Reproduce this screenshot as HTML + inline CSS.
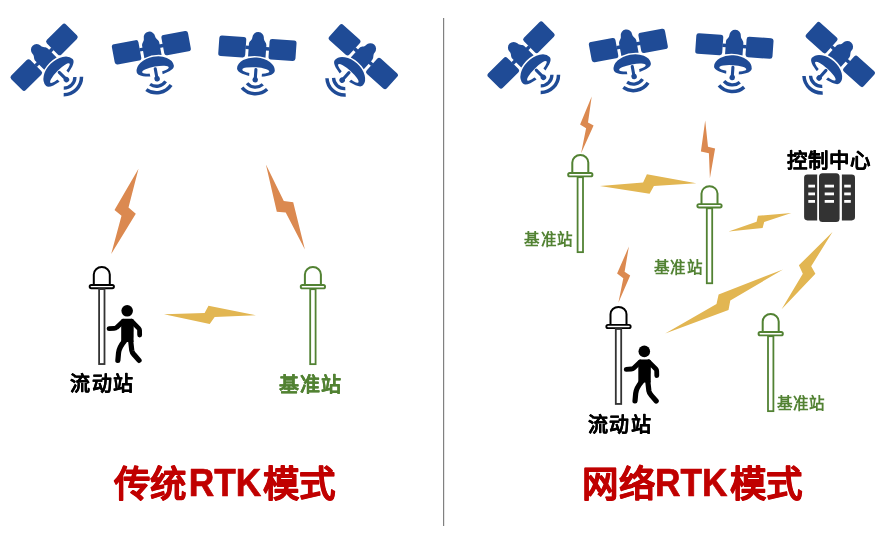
<!DOCTYPE html>
<html lang="zh-CN">
<head>
<meta charset="utf-8">
<style>
html,body{margin:0;padding:0;background:#fff;}
body{width:886px;height:535px;overflow:hidden;position:relative;font-family:"Liberation Sans",sans-serif;}
svg{position:absolute;left:0;top:0;will-change:transform;}
.t{font-family:"Liberation Sans",sans-serif;font-weight:bold;stroke-linejoin:round;}
</style>
</head>
<body>
<svg width="886" height="535" viewBox="0 0 886 535">
<defs>
  <g id="sat">
    <rect x="-38.7" y="-10.3" width="27" height="20.6" rx="2.6" fill="#1F4B96"/>
    <rect x="11.7" y="-10.3" width="27" height="20.6" rx="2.6" fill="#1F4B96"/>
    <rect x="-12" y="-1.75" width="24" height="3.5" fill="#1F4B96"/>
    <path d="M-8.75,9 L-8.75,-3.5 C-8.75,-6.5 -5.75,-7.5 -5.75,-10.5 A5.75,5.75 0 0 1 5.75,-10.5 C5.75,-7.5 8.75,-6.5 8.75,-3.5 L8.75,9 Q0,6.6 -8.75,9 Z" fill="#1F4B96"/>
    <path fill-rule="evenodd" d="M-18.9,21.5 A18.9,12.2 0 0 1 18.9,21.5 A18.9,7 0 0 1 -18.9,21.5 Z M-13.5,22.4 A13.5,3.2 0 0 0 13.5,22.4 A13.5,3.2 0 0 0 -13.5,22.4 Z" fill="#1F4B96"/>
    <rect x="-6.3" y="23.3" width="12.6" height="6.5" fill="#fff"/>
    <path d="M0,21.4 L0,31" stroke="#1F4B96" stroke-width="3.1" stroke-linecap="round"/>
    <circle cx="0" cy="31.6" r="2.75" fill="#1F4B96"/>
    <path d="M-7.9,35.7 A11.1,11.1 0 0 0 7.9,35.7" fill="none" stroke="#1F4B96" stroke-width="3.3"/>
    <path d="M-12.6,40.3 A17.7,17.7 0 0 0 12.6,40.3" fill="none" stroke="#1F4B96" stroke-width="3.5"/>
  </g>
  <g id="stn" fill="#fff">
    <path d="M-8,18.9 L-8,8.4 A8,7.4 0 0 1 8,8.4 L8,18.9" stroke-width="2"/>
    <rect x="-12.15" y="18.95" width="24.3" height="3.3" rx="1.65" stroke-width="1.9"/>
    <rect x="-2.7" y="23.1" width="5.4" height="74.95" stroke-width="1.8" stroke="currentColor"/>
  </g>
  <g id="man" fill="#000" stroke="#000" stroke-linecap="round" stroke-linejoin="round">
    <circle cx="0" cy="0" r="5.8" stroke="none"/>
    <path d="M-6,10 Q-6,8 -4,8 L4.6,8 Q6.6,8 6.6,10 L6.4,31.2 L-6,31.2 Z" stroke="none"/>
    <path d="M-4.2,10.6 L-10.5,16.6 Q-11.5,17.6 -13,17.6 L-18.1,17.9" fill="none" stroke-width="4.8"/>
    <path d="M4.5,10.5 L11.6,17.6 Q12.4,18.4 12.4,19.5 L12.5,24.2" fill="none" stroke-width="4.8"/>
    <path d="M-2.5,30 Q-8,36.5 -8.6,42 L-9.3,49.6" fill="none" stroke-width="5.2"/>
    <path d="M3.5,30 L4.6,39.5 Q5,42 7,44 L11.9,49.6" fill="none" stroke-width="5.2"/>
  </g>
</defs>

<!-- divider -->
<rect x="443" y="18" width="1.2" height="508" fill="#808080"/>

<!-- satellites left -->
<use href="#sat" transform="translate(44.1,57.25) rotate(-45)"/>
<use href="#sat" transform="translate(151.35,47.7) rotate(-10.5)"/>
<use href="#sat" transform="translate(257.4,48.2) rotate(4)"/>
<use href="#sat" transform="translate(363.3,56.7) rotate(42)"/>
<!-- satellites right -->
<use href="#sat" transform="translate(521.1,55.05) rotate(-45)"/>
<use href="#sat" transform="translate(628.35,45.5) rotate(-10.5)"/>
<use href="#sat" transform="translate(734.4,46) rotate(4)"/>
<use href="#sat" transform="translate(840.3,54.5) rotate(42)"/>

<!-- orange bolts -->
<g fill="#DB8950">
  <polygon points="138.5,168.7 128.5,207.6 135.8,213.8 111.2,253.9 121.5,215.8 114.5,209.9"/>
  <polygon points="265.9,164.5 283.8,201 293.2,202.2 304.9,249.4 285.7,212.6 276.8,211.7"/>
  <polygon points="591.7,96.5 588,122.6 593.6,125.4 581.1,153.3 586.1,128.2 580.1,124.5"/>
  <polygon points="705.2,120.6 708,146.7 715.1,148.6 709.9,178.2 708.9,153.2 700.9,151.4"/>
  <polygon points="628.9,246.5 624.6,271.8 630.2,275.5 618.4,302.7 623.3,278.3 617.1,273.6"/>
</g>
<!-- yellow bolts -->
<g fill="#E2B652">
  <polygon points="164,314.2 204.6,313 208.5,305.7 255.9,315.3 214.7,317 209.7,324.1"/>
  <polygon points="599.9,186.1 643.1,182.4 646.9,174.3 696.3,183.2 653.9,186.1 649.6,193.8"/>
  <polygon points="728.6,231.6 756.6,221.7 757.9,215.8 791.3,213.1 764.2,222.1 762.6,228"/>
  <polygon points="665.2,333.6 716.5,304.1 718.6,294.4 783,269.5 730.3,300.4 728.5,310.1"/>
  <polygon points="832.5,232.1 811.2,266.2 815.4,273.7 781.6,309.2 802.8,273.7 798.9,265.3"/>
</g>

<!-- stations -->
<use href="#stn" transform="translate(101.8,266)" stroke="#000" color="#333"/>
<use href="#stn" transform="translate(312.9,266.1)" stroke="#528233" color="#528233"/>
<use href="#stn" transform="translate(580.3,154.1)" stroke="#528233" color="#528233"/>
<use href="#stn" transform="translate(709.5,185.2)" stroke="#528233" color="#528233"/>
<use href="#stn" transform="translate(618.5,305.9)" stroke="#000" color="#333"/>
<use href="#stn" transform="translate(770.7,313.1)" stroke="#528233" color="#528233"/>

<!-- men -->
<use href="#man" transform="translate(127.16,310.8)"/>
<use href="#man" transform="translate(644.3,351.4)"/>

<!-- server -->
<g fill="#333">
  <path d="M807.4,174.6 L817.2,174.6 L817.2,220.4 L807.4,220.4 Q804.1,220.4 804.1,217.1 L804.1,177.9 Q804.1,174.6 807.4,174.6 Z"/>
  <rect x="819" y="173.3" width="20.6" height="48.6" rx="3.5"/>
  <path d="M851.7,174.6 L841.9,174.6 L841.9,220.4 L851.7,220.4 Q855,220.4 855,217.1 L855,177.9 Q855,174.6 851.7,174.6 Z"/>
</g>
<g fill="#fff">
  <rect x="808.3" y="184.7" width="6.7" height="2.8"/>
  <rect x="808.3" y="192.5" width="6.7" height="2.8"/>
  <rect x="808.3" y="200" width="6.7" height="2.8"/>
  <rect x="824.7" y="184.7" width="9.3" height="2.8"/>
  <rect x="824.7" y="192.5" width="9.3" height="2.8"/>
  <rect x="824.7" y="200" width="9.3" height="2.8"/>
  <rect x="844.2" y="184.7" width="6.6" height="2.8"/>
  <rect x="844.2" y="192.5" width="6.6" height="2.8"/>
  <rect x="844.2" y="200" width="6.6" height="2.8"/>
</g>

<!-- labels -->
<text class="t" x="102.3" y="390.5" font-size="20" letter-spacing="1.3" text-anchor="middle" fill="#000" stroke="#000" stroke-width="0.2">流动站</text>
<text class="t" x="310.8" y="391.5" font-size="20" letter-spacing="1.3" text-anchor="middle" fill="#528233" stroke="#528233" stroke-width="0.2">基准站</text>
<text class="t" x="619.9" y="432.2" font-size="20" letter-spacing="1.3" text-anchor="middle" fill="#000" stroke="#000" stroke-width="0.2">流动站</text>
<text class="t" x="548.8" y="245" font-size="15.5" letter-spacing="0.4" text-anchor="middle" fill="#528233">基准站</text>
<text class="t" x="678.6" y="273" font-size="15.5" letter-spacing="0.4" text-anchor="middle" fill="#528233">基准站</text>
<text class="t" x="801.3" y="408.5" font-size="15.5" letter-spacing="0.4" text-anchor="middle" fill="#528233">基准站</text>
<text class="t" x="828.5" y="167.5" font-size="20.5" letter-spacing="1" text-anchor="middle" fill="#000" stroke="#000" stroke-width="0.2">控制中心</text>

<g class="t" fill="#C00000" stroke="#C00000" stroke-width="0.7">
<text x="150" y="497" font-size="36.5" letter-spacing="0.3" text-anchor="middle">传统</text>
<text transform="translate(225,496) scale(0.917,1)" font-size="38.5" text-anchor="middle">RTK</text>
<text x="299" y="497" font-size="36.5" letter-spacing="0.3" text-anchor="middle">模式</text>
<text x="618.7" y="497" font-size="36.5" letter-spacing="0.3" text-anchor="middle">网络</text>
<text transform="translate(691.3,496) scale(0.917,1)" font-size="38.5" text-anchor="middle">RTK</text>
<text x="766.1" y="497" font-size="36.5" letter-spacing="0.3" text-anchor="middle">模式</text>
</g>

</svg>
</body>
</html>
